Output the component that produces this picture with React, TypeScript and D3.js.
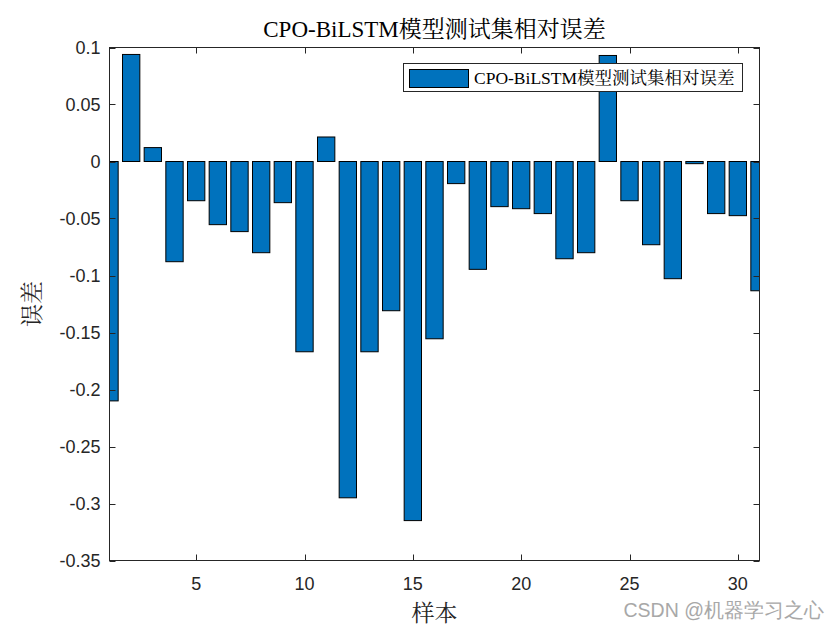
import React from 'react';
import * as d3 from 'd3';

// relative error of each test sample
const samples = d3.range(1, 32);
const errors = [
  -0.210, 0.0939, 0.0122, -0.0879, -0.0344, -0.0554, -0.0615, -0.0800, -0.0361, -0.1669,
  0.0215, -0.2950, -0.1669, -0.1309, -0.3150, -0.1555, -0.0194, -0.0946, -0.0396, -0.0414,
  -0.0457, -0.0853, -0.0800, 0.0930, -0.0344, -0.0730, -0.1028, -0.0019, -0.0457, -0.0475,
  -0.1134,
];
const xTicks = [5, 10, 15, 20, 25, 30];
const yTicks = [0.1, 0.05, 0, -0.05, -0.1, -0.15, -0.2, -0.25, -0.3, -0.35];

const seriesName = 'CPO-BiLSTM模型测试集相对误差';
const titleText = 'CPO-BiLSTM模型测试集相对误差';

const W = 840;
const H = 630;
const left = 109.5;
const right = 759.5;
const top = 47.5;
const bottom = 560.5;

const serif = "'Liberation Serif', 'Times New Roman', 'Noto Serif CJK SC', 'Noto Sans CJK SC', serif";
const sans = "'Liberation Sans', Arial, Helvetica, sans-serif";
const axisColor = '#262626';

export default function App() {
  const x = d3.scaleLinear().domain([1, 31]).range([left, right]);
  const y = d3.scaleLinear().domain([-0.35, 0.1]).range([bottom, top]);
  const barW = x(1.8) - x(1);
  const fmt = (v: number) => (v === 0 ? '0' : String(+v.toFixed(2)));

  return (
    <svg width={W} height={H} style={{ position: 'absolute', left: 0, top: 0, background: '#fff' }}>
      <defs>
        <clipPath id="plot">
          <rect x={left} y={top} width={right - left} height={bottom - top} />
        </clipPath>
      </defs>
      <rect x={0} y={0} width={W} height={H} fill="#fff" />

      <g clipPath="url(#plot)">
        {errors.map((v, i) => (
          <rect
            key={i}
            x={x(samples[i]) - barW / 2}
            y={y(Math.max(0, v))}
            width={barW}
            height={Math.abs(y(v) - y(0))}
            fill="#0072BD"
            stroke="#000"
            strokeWidth={1}
          />
        ))}
      </g>

      {/* axes box */}
      <rect x={left} y={top} width={right - left} height={bottom - top} fill="none" stroke={axisColor} strokeWidth={1} />

      {yTicks.map((t) => (
        <g key={'y' + t}>
          <line x1={left} x2={left + 6} y1={Math.round(y(t)) + 0.5} y2={Math.round(y(t)) + 0.5} stroke={axisColor} />
          <line x1={right} x2={right - 6} y1={Math.round(y(t)) + 0.5} y2={Math.round(y(t)) + 0.5} stroke={axisColor} />
          <text x={left - 9} y={y(t)} dy="0.35em" textAnchor="end" fontFamily={sans} fontSize={18} fill={axisColor}>
            {fmt(t)}
          </text>
        </g>
      ))}
      {xTicks.map((t) => (
        <g key={'x' + t}>
          <line x1={Math.round(x(t)) + 0.5} x2={Math.round(x(t)) + 0.5} y1={bottom} y2={bottom - 6} stroke={axisColor} />
          <line x1={Math.round(x(t)) + 0.5} x2={Math.round(x(t)) + 0.5} y1={top} y2={top + 6} stroke={axisColor} />
          <text x={x(t)} y={bottom + 29} textAnchor="middle" fontFamily={sans} fontSize={18} fill={axisColor}>
            {t}
          </text>
        </g>
      ))}

      <text x={(left + right) / 2} y={37} textAnchor="middle" fontFamily={serif} fontSize={23} fill="#000">
        {titleText}
      </text>
      <text x={(left + right) / 2} y={621} textAnchor="middle" fontFamily={serif} fontSize={23} fill={axisColor}>
        样本
      </text>
      <text
        transform={`translate(40, ${(top + bottom) / 2}) rotate(-90)`}
        textAnchor="middle"
        fontFamily={serif}
        fontSize={23}
        fill={axisColor}
      >
        误差
      </text>

      {/* legend */}
      <g>
        <rect x={403.5} y={63.5} width={339} height={28} fill="#fff" stroke={axisColor} strokeWidth={1} />
        <rect x={409.5} y={69.5} width={59} height={18} fill="#0072BD" stroke="#000" strokeWidth={1} />
        <text x={474} y={84} fontFamily={serif} fontSize={17.5} fill="#000">
          {seriesName}
        </text>
      </g>

      <text x={824} y={617} textAnchor="end" fontFamily={sans} fontSize={19.5} fill="#a8a8a8">
        CSDN @机器学习之心
      </text>
    </svg>
  );
}
